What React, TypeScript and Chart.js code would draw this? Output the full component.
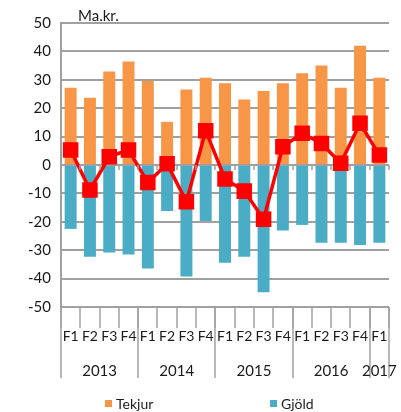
import React, { useEffect, useRef } from "react";
import { Chart, registerables } from "chart.js";

Chart.register(...registerables);

const quarters = ["F1", "F2", "F3", "F4", "F1", "F2", "F3", "F4", "F1", "F2", "F3", "F4", "F1", "F2", "F3", "F4", "F1"];
const years = ["2013", "2014", "2015", "2016", "2017"];
const yearCounts = [4, 4, 4, 4, 1];
const tekjur = [27.2, 23.7, 32.9, 36.4, 29.6, 15.2, 26.6, 30.7, 28.8, 23.1, 26.1, 28.8, 32.3, 35.0, 27.2, 42.0, 30.7];
const gjold = [-22.5, -32.3, -30.8, -31.5, -36.4, -16.2, -39.3, -19.7, -34.4, -32.3, -44.8, -23.1, -21.1, -27.4, -27.4, -28.2, -27.4];
const jofnudur = [5.3, -8.8, 2.9, 5.3, -6.2, 0.4, -12.9, 12.1, -4.9, -9.2, -19.1, 6.4, 11.2, 7.6, 0.6, 14.7, 3.5];
const yTicks = [50, 40, 30, 20, 10, 0, -10, -20, -30, -40, -50];
const unitLabel = "Ma.kr.";

const FONT = "Lato, 'Open Sans', sans-serif";
const GRID = "#A0A0A0";

const bottomPlugin = {
  id: "bottomLabels",
  afterDraw(chart: any) {
    const { ctx, chartArea } = chart;
    const x = chart.scales.x;
    const y = chart.scales.y;
    const n = quarters.length;
    const half = (x.getPixelForValue(1) - x.getPixelForValue(0)) / 2;
    const bottom = chartArea.bottom;
    const zeroY = y.getPixelForValue(0);
    ctx.save();
    ctx.strokeStyle = GRID;
    ctx.lineWidth = 1.5;
    // zero axis ticks
    for (let i = 0; i <= n; i++) {
      const px = Math.round(x.getPixelForValue(0) - half + i * 2 * half);
      ctx.beginPath();
      ctx.moveTo(px, zeroY);
      ctx.lineTo(px, zeroY + 5);
      ctx.stroke();
    }
    // quarter separators
    for (let i = 0; i <= n; i++) {
      const px = Math.round(x.getPixelForValue(0) - half + i * 2 * half);
      ctx.beginPath();
      ctx.moveTo(px, bottom);
      ctx.lineTo(px, bottom + 21);
      ctx.stroke();
    }
    // year separators
    let idx = 0;
    const bounds = [0];
    yearCounts.forEach((c) => {
      idx += c;
      bounds.push(idx);
    });
    bounds.forEach((b) => {
      const px = Math.round(x.getPixelForValue(0) - half + b * 2 * half);
      ctx.beginPath();
      ctx.moveTo(px, bottom);
      ctx.lineTo(px, bottom + 71);
      ctx.stroke();
    });
    // quarter labels
    ctx.fillStyle = "#1a1a1a";
    ctx.font = `14px ${FONT}`;
    ctx.textAlign = "center";
    ctx.textBaseline = "middle";
    quarters.forEach((q, i) => {
      ctx.fillText(q, x.getPixelForValue(i), bottom + 29);
    });
    // year labels
    ctx.font = `15px ${FONT}`;
    let start = 0;
    years.forEach((yr, k) => {
      const s = x.getPixelForValue(start) - half;
      const e = x.getPixelForValue(start + yearCounts[k] - 1) + half;
      ctx.fillText(yr, (s + e) / 2, bottom + 64);
      start += yearCounts[k];
    });
    // unit label
    ctx.textAlign = "left";
    ctx.font = `15px ${FONT}`;
    ctx.fillText(unitLabel, 78, 16);
    // legend
    const ds = chart.data.datasets;
    const items = [
      { label: ds[0].label, color: ds[0].backgroundColor, x: 105 },
      { label: ds[1].label, color: ds[1].backgroundColor, x: 270 },
    ];
    ctx.font = `14px ${FONT}`;
    items.forEach((it) => {
      ctx.fillStyle = it.color;
      ctx.fillRect(it.x, 400, 7, 7);
      ctx.fillStyle = "#1a1a1a";
      ctx.fillText(it.label, it.x + 11, 404);
    });
    ctx.restore();
  },
};

export default function App() {
  const ref = useRef<HTMLCanvasElement | null>(null);
  useEffect(() => {
    if (!ref.current) return;
    const chart = new Chart(ref.current, {
      type: "bar",
      data: {
        labels: quarters.map((q, i) => `${q}-${i}`),
        datasets: [
          {
            label: "Tekjur",
            data: tekjur,
            backgroundColor: "#F79646",
            stack: "s",
            barPercentage: 0.62,
            categoryPercentage: 1,
            order: 2,
          },
          {
            label: "Gjöld",
            data: gjold,
            backgroundColor: "#4BACC6",
            stack: "s",
            barPercentage: 0.62,
            categoryPercentage: 1,
            order: 2,
          },
          {
            type: "line",
            label: "Jöfnuður",
            data: jofnudur,
            borderColor: "#FF0000",
            backgroundColor: "#FF0000",
            borderWidth: 3.5,
            pointStyle: "rect",
            pointRadius: 8.5,
            stack: "line",
            order: 1,
          } as any,
        ],
      },
      options: {
        animation: false,
        responsive: false,
        maintainAspectRatio: false,
        layout: { padding: { left: 0, top: 23, right: 8, bottom: 105 } },
        plugins: { legend: { display: false }, tooltip: { enabled: false } },
        scales: {
          x: {
            display: false,
            stacked: true,
          },
          y: {
            stacked: true,
            min: -50,
            max: 50,
            afterFit: (s: any) => {
              s.width = 61;
            },
            afterBuildTicks: (s: any) => {
              s.ticks = yTicks.map((v) => ({ value: v }));
            },
            border: { display: true, color: GRID, width: 2 },
            grid: { color: GRID, lineWidth: 2, drawTicks: false },
            ticks: {
              padding: 10,
              color: "#1a1a1a",
              font: { family: FONT, size: 15 },
            },
          },
        },
      },
      plugins: [bottomPlugin],
    });
    return () => chart.destroy();
  }, []);
  return (
    <div style={{ position: "fixed", left: 0, top: 0, width: 401, height: 412, background: "#fff" }}>
      <canvas ref={ref} width={401} height={412} style={{ width: 401, height: 412 }} />
    </div>
  );
}
